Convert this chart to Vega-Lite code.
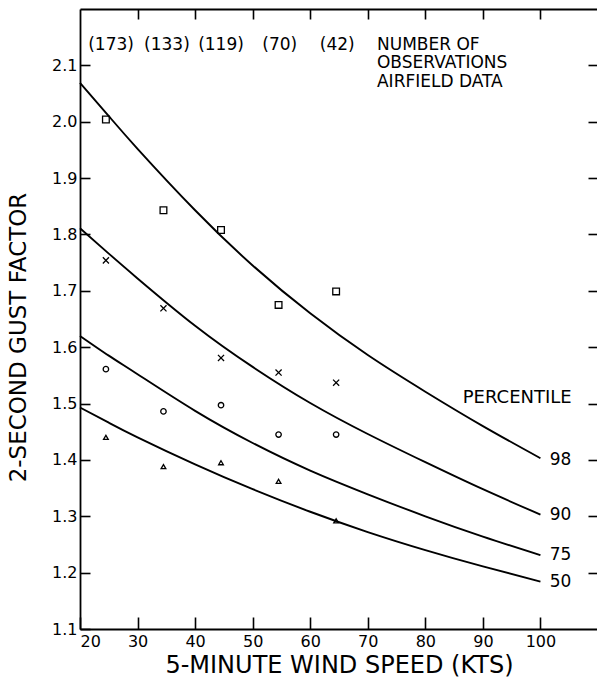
{
  "$schema": "https://vega.github.io/schema/vega-lite/v6.json",
  "width": 518,
  "height": 620,
  "autosize": {"type": "none"},
  "padding": {"left": 80, "top": 9, "right": 0, "bottom": 54},
  "background": "white",
  "config": {
    "view": {"stroke": null},
    "font": "DejaVu Sans",
    "axis": {
      "domainColor": "black", "domainWidth": 1.8, "tickColor": "black", "tickWidth": 1.6,
      "labelColor": "black", "titleColor": "black", "grid": false,
      "labelFont": "DejaVu Sans", "titleFont": "DejaVu Sans", "labelFontSize": 16, "titleFontSize": 23, "titleFontWeight": "normal"
    }
  },
  "datasets": {
    "curves": [
      {"pct": "98", "ws": 20, "g": 2.069}, {"pct": "98", "ws": 25, "g": 2.010}, {"pct": "98", "ws": 30, "g": 1.952}, {"pct": "98", "ws": 40, "g": 1.843}, {"pct": "98", "ws": 50, "g": 1.745}, {"pct": "98", "ws": 60, "g": 1.660}, {"pct": "98", "ws": 70, "g": 1.586}, {"pct": "98", "ws": 80, "g": 1.521}, {"pct": "98", "ws": 90, "g": 1.460}, {"pct": "98", "ws": 100, "g": 1.403},
      {"pct": "90", "ws": 20, "g": 1.811}, {"pct": "90", "ws": 25, "g": 1.766}, {"pct": "90", "ws": 30, "g": 1.722}, {"pct": "90", "ws": 40, "g": 1.638}, {"pct": "90", "ws": 50, "g": 1.565}, {"pct": "90", "ws": 60, "g": 1.501}, {"pct": "90", "ws": 70, "g": 1.446}, {"pct": "90", "ws": 80, "g": 1.396}, {"pct": "90", "ws": 90, "g": 1.348}, {"pct": "90", "ws": 100, "g": 1.303},
      {"pct": "75", "ws": 20, "g": 1.620}, {"pct": "75", "ws": 25, "g": 1.585}, {"pct": "75", "ws": 30, "g": 1.552}, {"pct": "75", "ws": 40, "g": 1.487}, {"pct": "75", "ws": 50, "g": 1.430}, {"pct": "75", "ws": 60, "g": 1.381}, {"pct": "75", "ws": 70, "g": 1.339}, {"pct": "75", "ws": 80, "g": 1.300}, {"pct": "75", "ws": 90, "g": 1.264}, {"pct": "75", "ws": 100, "g": 1.231},
      {"pct": "50", "ws": 20, "g": 1.493}, {"pct": "50", "ws": 25, "g": 1.466}, {"pct": "50", "ws": 30, "g": 1.440}, {"pct": "50", "ws": 40, "g": 1.392}, {"pct": "50", "ws": 50, "g": 1.348}, {"pct": "50", "ws": 60, "g": 1.308}, {"pct": "50", "ws": 70, "g": 1.272}, {"pct": "50", "ws": 80, "g": 1.240}, {"pct": "50", "ws": 90, "g": 1.211}, {"pct": "50", "ws": 100, "g": 1.184}
    ],
    "obs": [
      {"pct": "98", "ws": 24.5, "g": 2.004}, {"pct": "98", "ws": 34.5, "g": 1.843}, {"pct": "98", "ws": 44.5, "g": 1.808}, {"pct": "98", "ws": 54.5, "g": 1.675}, {"pct": "98", "ws": 64.5, "g": 1.699},
      {"pct": "90", "ws": 24.5, "g": 1.754}, {"pct": "90", "ws": 34.5, "g": 1.669}, {"pct": "90", "ws": 44.5, "g": 1.581}, {"pct": "90", "ws": 54.5, "g": 1.555}, {"pct": "90", "ws": 64.5, "g": 1.537},
      {"pct": "75", "ws": 24.5, "g": 1.561}, {"pct": "75", "ws": 34.5, "g": 1.486}, {"pct": "75", "ws": 44.5, "g": 1.497}, {"pct": "75", "ws": 54.5, "g": 1.445}, {"pct": "75", "ws": 64.5, "g": 1.445},
      {"pct": "50", "ws": 24.5, "g": 1.440}, {"pct": "50", "ws": 34.5, "g": 1.388}, {"pct": "50", "ws": 44.5, "g": 1.395}, {"pct": "50", "ws": 54.5, "g": 1.362}, {"pct": "50", "ws": 64.5, "g": 1.292}
    ],
    "counts": [
      {"ws": 25.4, "g": 2.137, "label": "(173)"}, {"ws": 35.1, "g": 2.137, "label": "(133)"}, {"ws": 44.5, "g": 2.137, "label": "(119)"}, {"ws": 54.7, "g": 2.137, "label": "(70)"}, {"ws": 64.7, "g": 2.137, "label": "(42)"}
    ],
    "notes": [
      {"ws": 71.6, "g": 2.137, "label": "NUMBER OF"}, {"ws": 71.6, "g": 2.104, "label": "OBSERVATIONS"}, {"ws": 71.6, "g": 2.070, "label": "AIRFIELD DATA"},
      {"ws": 101.6, "g": 1.400, "label": "98"}, {"ws": 101.6, "g": 1.302, "label": "90"}, {"ws": 101.6, "g": 1.231, "label": "75"}, {"ws": 101.6, "g": 1.184, "label": "50"}
    ],
    "header": [{"ws": 86.5, "g": 1.510, "label": "PERCENTILE"}]
  },
  "layer": [
    {
      "data": {"name": "curves"},
      "mark": {"type": "line", "color": "black", "strokeWidth": 1.9, "interpolate": "natural"},
      "encoding": {
        "x": {"field": "ws", "type": "quantitative", "scale": {"domain": [20, 110], "nice": false, "zero": false},
              "axis": {"orient": "bottom", "values": [20, 30, 40, 50, 60, 70, 80, 90, 100], "tickSize": -12, "labelPadding": 16, "title": "5-MINUTE WIND SPEED (KTS)", "titleFontSize": 24, "titleY": 36, "titleBaseline": "middle"}},
        "y": {"field": "g", "type": "quantitative", "scale": {"domain": [1.1, 2.2], "nice": false, "zero": false},
              "axis": {"orient": "left", "values": [1.1, 1.2, 1.3, 1.4, 1.5, 1.6, 1.7, 1.8, 1.9, 2.0, 2.1], "format": ".1f", "tickSize": -10, "labelPadding": 13, "title": "2-SECOND GUST FACTOR", "titleX": -62, "titleY": 328, "titleBaseline": "middle", "titleAlign": "center"}},
        "detail": {"field": "pct", "type": "nominal"}
      }
    },
    {
      "data": {"name": "obs"},
      "mark": {"type": "point", "filled": false, "color": "black", "strokeWidth": 1.3, "opacity": 1},
      "encoding": {
        "x": {"field": "ws", "type": "quantitative", "axis": {"orient": "top", "values": [30, 40, 50, 60, 70, 80, 90, 100], "tickSize": -10, "labels": false, "title": null}},
        "y": {"field": "g", "type": "quantitative", "axis": {"orient": "right", "values": [1.2, 1.3, 1.4, 1.5, 1.6, 1.7, 1.8, 1.9, 2.0, 2.1], "tickSize": -10, "labels": false, "title": null}},
        "shape": {"field": "pct", "type": "nominal", "legend": null, "scale": {"domain": ["98", "90", "75", "50"], "range": ["square", "M-1,-1L1,1M-1,1L1,-1", "circle", "triangle-up"]}},
        "size": {"field": "pct", "type": "nominal", "legend": null, "scale": {"domain": ["98", "90", "75", "50"], "range": [45, 22, 24, 55]}}
      }
    },
    {
      "data": {"name": "counts"},
      "mark": {"type": "text", "fontSize": 17, "align": "center", "baseline": "middle", "color": "black"},
      "encoding": {
        "x": {"field": "ws", "type": "quantitative", "axis": null},
        "y": {"field": "g", "type": "quantitative", "axis": null},
        "text": {"field": "label"}
      }
    },
    {
      "data": {"name": "notes"},
      "mark": {"type": "text", "fontSize": 17, "align": "left", "baseline": "middle", "color": "black"},
      "encoding": {
        "x": {"field": "ws", "type": "quantitative", "axis": null},
        "y": {"field": "g", "type": "quantitative", "axis": null},
        "text": {"field": "label"}
      }
    },
    {
      "data": {"name": "header"},
      "mark": {"type": "text", "fontSize": 18, "align": "left", "baseline": "middle", "color": "black"},
      "encoding": {
        "x": {"field": "ws", "type": "quantitative", "axis": null},
        "y": {"field": "g", "type": "quantitative", "axis": null},
        "text": {"field": "label"}
      }
    }
  ],
  "resolve": {"axis": {"x": "independent", "y": "independent"}}
}
